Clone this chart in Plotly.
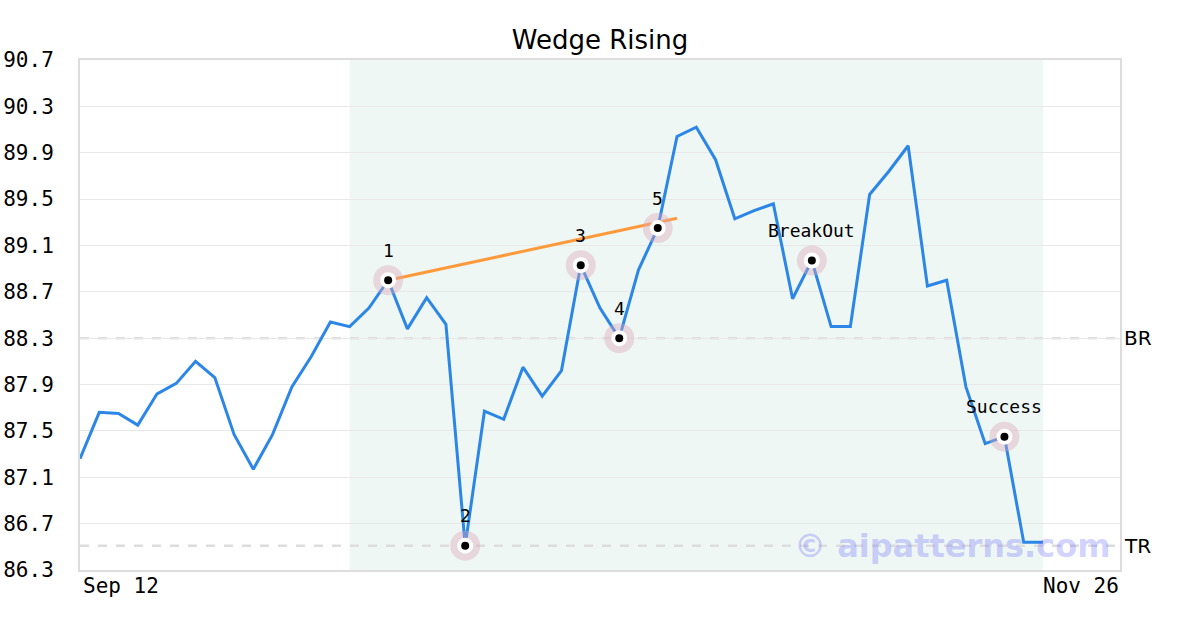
import plotly.graph_objects as go

# ---- data ----
prices = [87.26, 87.66, 87.65, 87.55, 87.82, 87.91, 88.10, 87.96, 87.47, 87.17,
          87.47, 87.88, 88.14, 88.44, 88.40, 88.56, 88.80, 88.38, 88.65, 88.42,
          86.51, 87.67, 87.60, 88.05, 87.80, 88.02, 88.93, 88.56, 88.30, 88.89,
          89.25, 90.04, 90.12, 89.84, 89.33, 89.40, 89.46, 88.64, 88.97, 88.40,
          88.40, 89.54, 89.74, 89.96, 88.75, 88.80, 87.88, 87.39, 87.45, 86.54,
          86.54]
x_idx = list(range(len(prices)))

point_idx = [16, 20, 26, 28, 30, 38, 48]
point_labels = ["1", "2", "3", "4", "5", "BreakOut", "Success"]

trend_x = [16, 31]
trend_y = [88.80, 89.334]

br_level = 88.30
tr_level = 86.51

shade_start, shade_end = 14, 50

x_tick_vals = [0, 54]
x_tick_text = ["Sep 12", "Nov 26"]
y_ticks = [86.3, 86.7, 87.1, 87.5, 87.9, 88.3, 88.7, 89.1, 89.5, 89.9, 90.3, 90.7]

MONO = "DejaVu Sans Mono"
SANS = "DejaVu Sans"

fig = go.Figure()

fig.add_trace(go.Scatter(x=x_idx, y=prices, mode="lines",
                         line=dict(color="#2b86e8", width=3), hoverinfo="skip"))
fig.add_trace(go.Scatter(x=trend_x, y=trend_y, mode="lines",
                         line=dict(color="#ff9a3c", width=3), hoverinfo="skip"))

px_ = [x_idx[i] for i in point_idx]
py_ = [prices[i] for i in point_idx]
fig.add_trace(go.Scatter(x=px_, y=py_, mode="markers",
                         marker=dict(size=30, color="rgba(220,168,184,0.4)", line=dict(width=0)),
                         hoverinfo="skip"))
fig.add_trace(go.Scatter(x=px_, y=py_, mode="markers",
                         marker=dict(size=16, color="white", line=dict(width=0)),
                         hoverinfo="skip"))
fig.add_trace(go.Scatter(x=px_, y=py_, mode="markers",
                         marker=dict(size=8, color="black", line=dict(width=0)),
                         hoverinfo="skip"))

shapes = [
    dict(type="rect", xref="x", yref="paper", x0=shade_start, x1=shade_end, y0=0, y1=1,
         fillcolor="#eef7f3", line=dict(width=0), layer="below"),
    dict(type="line", xref="paper", yref="y", x0=0, x1=1, y0=br_level, y1=br_level,
         line=dict(color="#dddddd", width=2.5, dash="dash"), layer="below"),
    dict(type="line", xref="paper", yref="y", x0=0, x1=1, y0=tr_level, y1=tr_level,
         line=dict(color="#dddddd", width=2.5, dash="dash"), layer="below"),
]

annotations = []
for xi, yi, t in zip(px_, py_, point_labels):
    annotations.append(dict(x=xi, y=yi, xref="x", yref="y", text=t, showarrow=False,
                            yshift=30, font=dict(family=MONO, size=18, color="black")))
annotations.append(dict(x=1, y=br_level, xref="paper", yref="y", text="BR", showarrow=False,
                        xanchor="left", xshift=2, font=dict(family=SANS, size=20, color="black")))
annotations.append(dict(x=1, y=tr_level, xref="paper", yref="y", text="TR", showarrow=False,
                        xanchor="left", xshift=2, font=dict(family=SANS, size=20, color="black")))
annotations.append(dict(x=x_tick_vals[0], y=0, xref="x", yref="paper", text=x_tick_text[0],
                        showarrow=False, xanchor="left", yanchor="top", yshift=-2, xshift=1,
                        font=dict(family=MONO, size=21, color="black")))
annotations.append(dict(x=x_tick_vals[1], y=0, xref="x", yref="paper", text=x_tick_text[1],
                        showarrow=False, xanchor="right", yanchor="top", yshift=-2, xshift=1,
                        font=dict(family=MONO, size=21, color="black")))
annotations.append(dict(x=0.839, y=86.51, xref="paper", yref="y", text="© aipatterns.com",
                        showarrow=False, xanchor="center", yanchor="middle",
                        font=dict(family=SANS, size=32, color="rgba(100,100,255,0.3)", weight="bold")))

fig.update_layout(
    width=1200, height=630,
    margin=dict(l=80, r=80, t=60, b=60),
    paper_bgcolor="white", plot_bgcolor="white",
    showlegend=False,
    title=dict(text="Wedge Rising", x=0.5, xanchor="center",
               y=1 - 40 / 630, yanchor="middle",
               font=dict(family=SANS, size=26, color="black"), automargin=False),
    shapes=shapes, annotations=annotations,
    xaxis=dict(range=[0, 54], showgrid=False, zeroline=False, showticklabels=False,
               showline=True, mirror=True, linecolor="#dddddd", linewidth=2, automargin=False),
    yaxis=dict(range=[86.3, 90.7], tickvals=y_ticks, ticktext=[f"{v:.1f}" for v in y_ticks],
               showgrid=True, gridcolor="#e8e8e8", gridwidth=1, zeroline=False,
               showline=True, mirror=True, linecolor="#dddddd", linewidth=2,
               ticks="", ticklabelstandoff=20, automargin=False,
               tickfont=dict(family=MONO, size=21, color="black")),
)

fig.write_html("out.html", config={"displayModeBar": False},
               post_script="document.body.style.margin='0';document.body.style.padding='0';")
